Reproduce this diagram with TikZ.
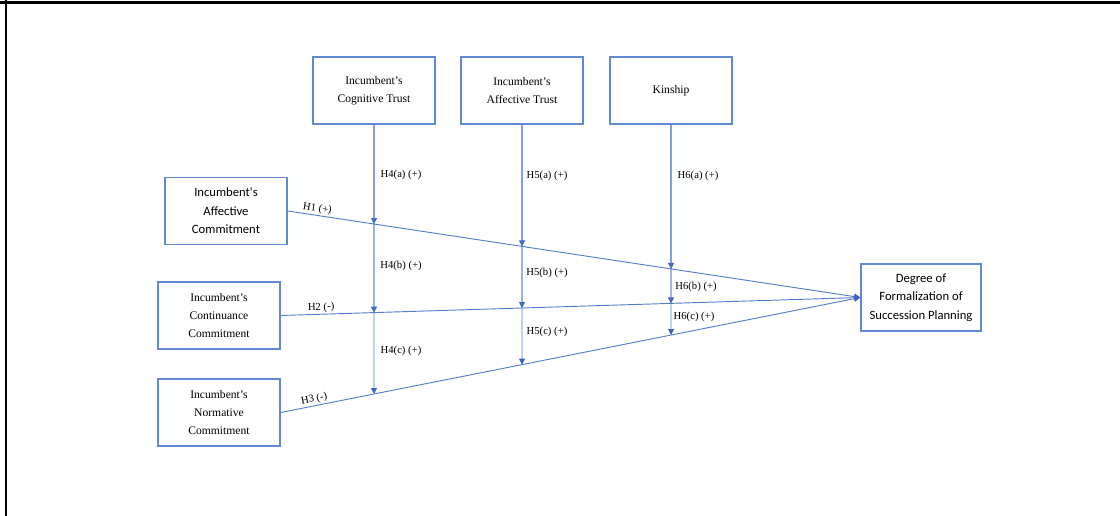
\documentclass[tikz,border=0pt]{standalone}
\usepackage{fontspec}
\setmainfont{Liberation Serif}
\newfontfamily\carlito{Carlito}
\usetikzlibrary{arrows.meta,calc}
\definecolor{boxcol}{RGB}{98,138,212}
\definecolor{linecol}{RGB}{84,124,204}
\definecolor{tipcol}{RGB}{60,100,190}
\tikzset{
  box/.style={draw=boxcol, line width=1.1pt, minimum width=91.5pt, minimum height=50.25pt,
    inner sep=0pt, align=center, font=\fontsize{8.7}{13.6}\selectfont},
  sbox/.style={box, font=\carlito\fontsize{9.5}{13.8}\selectfont},
  conn/.style={draw=linecol, line width=0.7pt, -{Triangle[length=4.5pt,width=4.5pt,fill=tipcol,color=tipcol]}},
  hlab/.style={font=\fontsize{8}{9}\selectfont, inner sep=1pt},
  frame/.style={line width=1.6pt, black}
}
\begin{document}
\begin{tikzpicture}[x=0.75pt,y=-0.75pt]
\useasboundingbox (0,0) rectangle (1120,516);
\draw[frame] (0,2.5) -- (1120,2.5);
\draw[frame] (6,0) -- (6,516);

\node[box] (cog) at (374,90.5) {Incumbent's\\Cognitive Trust};
\node[box] (aft) at (522,90.5) {Incumbent's\\Affective Trust};
\node[box] (kin) at (671,90.5) {Kinship};
\node[sbox] (acom) at (226,211) {Incumbent's\\Affective\\Commitment};
\node[box] (ccom) at (219,315.5) {Incumbent's\\Continuance\\Commitment};
\node[box] (ncom) at (219,412.5) {Incumbent's\\Normative\\Commitment};
\node[sbox, minimum width=90pt] (deg) at (921,297.5) {Degree of\\Formalization of\\Succession Planning};

\coordinate (cogbot) at (cog.south |- ncom.south);
\coordinate (aftbot) at (aft.south |- ncom.south);
\coordinate (kinbot) at (kin.south |- ncom.south);

\draw[conn] (acom.east) -- node[hlab, sloped, above, pos=0.05] {H1 (+)} (deg.west);
\draw[conn] (ccom.east) -- node[hlab, sloped, above, pos=0.07] {H2 (-)} (deg.west);
\draw[conn] (ncom.east) -- node[hlab, sloped, above, pos=0.06] {H3 (-)} (deg.west);

\foreach \s in {cog,aft,kin}{
  \coordinate (\s1) at (intersection of acom.east--deg.west and \s.south--\s bot);
  \coordinate (\s2) at (intersection of ccom.east--deg.west and \s.south--\s bot);
  \coordinate (\s3) at (intersection of ncom.east--deg.west and \s.south--\s bot);
  \draw[conn] (\s.south) -- (\s1);
  \draw[conn] (\s.south) -- (\s2);
  \draw[conn] (\s.south) -- (\s3);
}

\node[hlab] (l4a) at (401,175) {H4(a) (+)};
\node[hlab] (l4b) at (401,266) {H4(b) (+)};
\node[hlab] (l4c) at (401,351) {H4(c) (+)};
\node[hlab] (l5a) at (547,176) {H5(a) (+)};
\node[hlab] (l5b) at (547,273) {H5(b) (+)};
\node[hlab] (l5c) at (547,332) {H5(c) (+)};
\node[hlab] (l6a) at (698,176) {H6(a) (+)};
\node[hlab] (l6b) at (696,287) {H6(b) (+)};
\node[hlab] (l6c) at (694,317) {H6(c) (+)};
\end{tikzpicture}
\end{document}
